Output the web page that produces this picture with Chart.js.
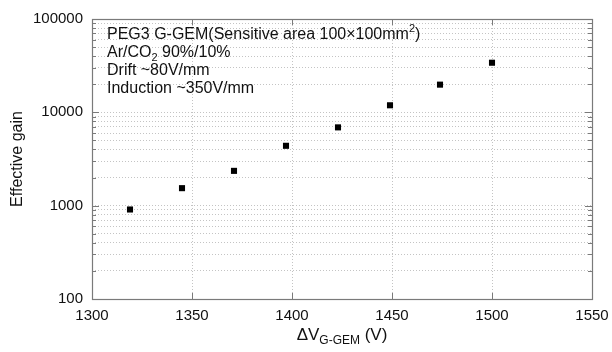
<!DOCTYPE html>
<html lang="en">
<head>
    <meta charset="UTF-8">
    <title>G-GEM effective gain</title>
    <style>
        body { margin: 0; background: #fff; }
        #wrap { width: 612px; height: 352px; }
    </style>
    <script src="https://cdn.jsdelivr.net/npm/chart.js"></script>
</head>
<body>
    <div id="wrap"><canvas id="gainChart" width="612" height="352"></canvas></div>

    <script>
        // Data
        const voltages = [1319, 1345, 1371, 1397, 1423, 1449, 1474, 1500];
        const gains = [910, 1540, 2360, 4380, 6900, 11900, 19800, 34000];

        const xTicks = [1300, 1350, 1400, 1450, 1500, 1550];
        const yDecades = [100, 1000, 10000, 100000];
        const noteLines = [
            ['PEG3 G-GEM(Sensitive area 100×100mm', '2', ')'],
            ['Ar/CO', '2', ' 90%/10%'],
            ['Drift ~80V/mm'],
            ['Induction ~350V/mm']
        ];

        // minor log ticks 2..9 in each decade
        const yTicks = [];
        yDecades.forEach((d, i) => {
            yTicks.push(d);
            if (i < yDecades.length - 1) {
                for (let m = 2; m <= 9; m++) yTicks.push(m * d);
            }
        });

        const FONT = '"Liberation Sans", Arial, sans-serif';
        const frameColor = '#7a7a7a';

        // frame, inward tick marks, text box and axis titles
        const decorations = {
            id: 'decorations',
            afterDraw(chart) {
                const { ctx, chartArea: a, scales } = chart;
                ctx.save();
                ctx.strokeStyle = frameColor;
                ctx.lineWidth = 1;
                ctx.beginPath();
                yTicks.forEach(v => {
                    const y = Math.round(scales.y.getPixelForValue(v)) + 0.5;
                    const len = yDecades.includes(v) ? 7 : 4;
                    ctx.moveTo(a.left, y); ctx.lineTo(a.left + len, y);
                    ctx.moveTo(a.right, y); ctx.lineTo(a.right - len, y);
                });
                xTicks.forEach(v => {
                    const x = Math.round(scales.x.getPixelForValue(v)) + 0.5;
                    ctx.moveTo(x, a.bottom); ctx.lineTo(x, a.bottom - 6);
                    ctx.moveTo(x, a.top); ctx.lineTo(x, a.top + 6);
                });
                ctx.stroke();
                ctx.lineWidth = 1.2;
                ctx.strokeRect(a.left + 0.5, a.top + 0.5, a.right - a.left, a.bottom - a.top);

                // text block
                ctx.fillStyle = '#111';
                ctx.textBaseline = 'alphabetic';
                ctx.textAlign = 'left';
                const big = '16px ' + FONT, small = '11px ' + FONT;
                noteLines.forEach((parts, i) => {
                    let x = a.left + 15;
                    const y = 39 + i * 18;
                    parts.forEach((p, j) => {
                        const script = j === 1;
                        ctx.font = script ? small : big;
                        let dy = 0;
                        if (script) dy = i === 0 ? -7 : 4;
                        ctx.fillText(p, x, y + dy);
                        x += ctx.measureText(p).width;
                    });
                });

                // x title with subscript
                const segs = [['ΔV', '17px ' + FONT, 0], ['G-GEM', '12px ' + FONT, 4], [' (V)', '17px ' + FONT, 0]];
                let w = 0;
                segs.forEach(s => { ctx.font = s[1]; w += ctx.measureText(s[0]).width; });
                let tx = (a.left + a.right) / 2 - w / 2;
                segs.forEach(s => {
                    ctx.font = s[1];
                    ctx.fillText(s[0], tx, 340 + s[2]);
                    tx += ctx.measureText(s[0]).width;
                });

                // y title
                ctx.font = '16px ' + FONT;
                ctx.translate(22, (a.top + a.bottom) / 2);
                ctx.rotate(-Math.PI / 2);
                ctx.textAlign = 'center';
                ctx.fillText('Effective gain', 0, 0);
                ctx.restore();
            }
        };

        new Chart(document.getElementById('gainChart'), {
            type: 'scatter',
            data: {
                datasets: [{
                    data: voltages.map((v, i) => ({ x: v, y: gains[i] })),
                    pointStyle: 'rect',
                    pointRadius: 4.3,
                    pointBackgroundColor: '#000',
                    pointBorderWidth: 0
                }]
            },
            options: {
                responsive: false,
                animation: false,
                layout: { autoPadding: false, padding: { left: 0, right: 20, top: 19, bottom: 0 } },
                plugins: { legend: { display: false }, tooltip: { enabled: false } },
                scales: {
                    x: {
                        type: 'linear',
                        min: 1300,
                        max: 1550,
                        afterBuildTicks: s => { s.ticks = xTicks.map(v => ({ value: v })); },
                        afterFit: s => { s.height = 53; s.paddingLeft = 0; s.paddingRight = 0; },
                        grid: { color: '#c4c4c4', drawTicks: false, lineWidth: 1 },
                        border: { display: false, dash: [1, 2] },
                        ticks: {
                            color: '#111',
                            font: { family: FONT, size: 15 },
                            padding: 8,
                            maxRotation: 0,
                            callback: v => String(v)
                        }
                    },
                    y: {
                        type: 'logarithmic',
                        min: 100,
                        max: 100000,
                        afterBuildTicks: s => { s.ticks = yTicks.map(v => ({ value: v })); },
                        afterFit: s => { s.width = 92; s.paddingTop = 0; s.paddingBottom = 0; },
                        grid: { color: '#c4c4c4', drawTicks: false, lineWidth: 1 },
                        border: { display: false, dash: [1, 2] },
                        ticks: {
                            color: '#111',
                            font: { family: FONT, size: 15 },
                            padding: 9,
                            autoSkip: false,
                            callback: v => yDecades.includes(v) ? String(v) : ''
                        }
                    }
                }
            },
            plugins: [decorations]
        });
    </script>
</body>
</html>
